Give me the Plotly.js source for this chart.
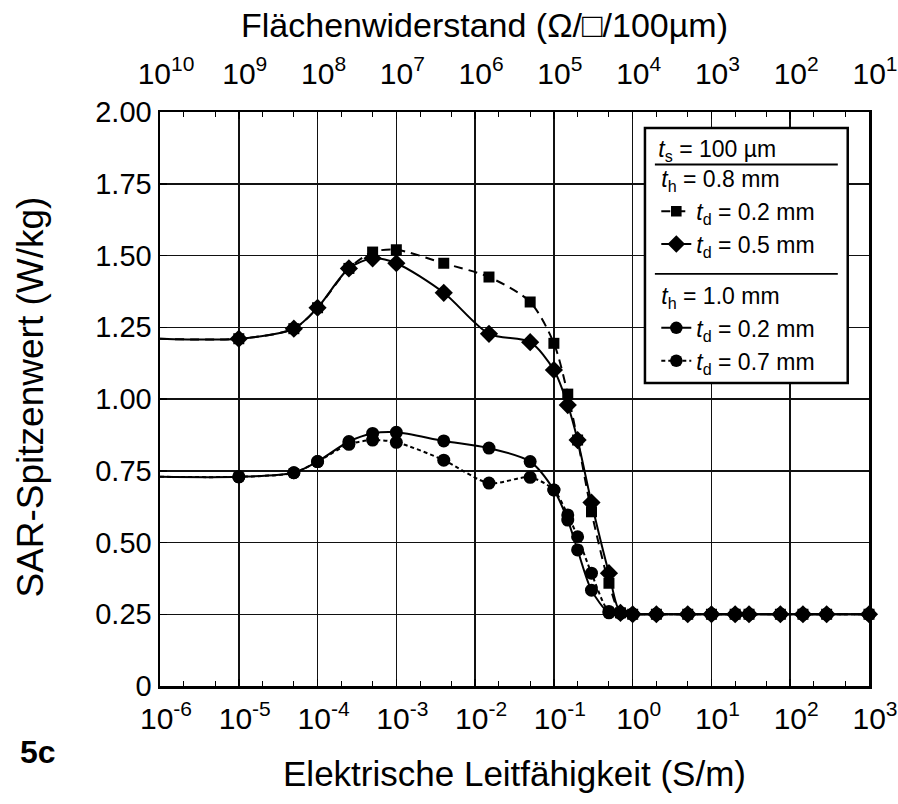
<!DOCTYPE html>
<html>
<head>
<meta charset="utf-8">
<script src="https://cdn.plot.ly/plotly-3.0.1.min.js"></script>
<style>html,body{margin:0;padding:0;background:#fff;}#chart{width:898px;height:804px;}</style>
</head>
<body>
<div id="chart"></div>
<script>
// Electrical conductivity (S/m) sample points
const sigmaA = [1e-6, 1e-5, 5e-5, 1e-4, 2.5e-4, 5e-4, 1e-3, 4e-3, 1.5e-2, 5e-2, 0.1, 0.15, 0.2, 0.3, 0.5, 0.7, 1, 2, 5, 10, 20, 30, 75, 145, 290, 1000];
// t_h = 0.8 mm
const sarH08D02 = [1.21, 1.21, 1.245, 1.318, 1.455, 1.512, 1.52, 1.473, 1.425, 1.338, 1.194, 1.017, 0.857, 0.607, 0.358, 0.255, 0.25, 0.25, 0.25, 0.25, 0.25, 0.25, 0.25, 0.25, 0.25, 0.25];
const sarH08D05 = [1.21, 1.21, 1.245, 1.318, 1.455, 1.49, 1.473, 1.37, 1.227, 1.198, 1.101, 0.979, 0.857, 0.639, 0.393, 0.255, 0.25, 0.25, 0.25, 0.25, 0.25, 0.25, 0.25, 0.25, 0.25, 0.25];
// t_h = 1.0 mm
const sarH10D02 = [0.729, 0.729, 0.743, 0.782, 0.852, 0.88, 0.884, 0.854, 0.829, 0.782, 0.683, 0.578, 0.474, 0.334, 0.255, 0.253, 0.25, 0.25, 0.25, 0.25, 0.25, 0.25, 0.25, 0.25, 0.25, 0.25];
const sarH10D07 = [0.729, 0.729, 0.743, 0.782, 0.842, 0.857, 0.849, 0.787, 0.707, 0.727, 0.683, 0.596, 0.52, 0.393, 0.26, 0.255, 0.25, 0.25, 0.25, 0.25, 0.25, 0.25, 0.25, 0.25, 0.25, 0.25];

const xTickVals = [1e-6, 1e-5, 1e-4, 1e-3, 1e-2, 1e-1, 1, 10, 100, 1000];
const xTickText = ['10<sup>-6</sup>','10<sup>-5</sup>','10<sup>-4</sup>','10<sup>-3</sup>','10<sup>-2</sup>','10<sup>-1</sup>','10<sup>0</sup>','10<sup>1</sup>','10<sup>2</sup>','10<sup>3</sup>'];
const topTickText = ['10<sup>10</sup>','10<sup>9</sup>','10<sup>8</sup>','10<sup>7</sup>','10<sup>6</sup>','10<sup>5</sup>','10<sup>4</sup>','10<sup>3</sup>','10<sup>2</sup>','10<sup>1</sup>'];
const yTickVals = [0, 0.25, 0.5, 0.75, 1.0, 1.25, 1.5, 1.75, 2.0];
const yTickText = ['0', '0.25', '0.50', '0.75', '1.00', '1.25', '1.50', '1.75', '2.00'];

const font = 'Liberation Sans, Arial, Helvetica, sans-serif';
const legFont = 23;
function sizes(n, s) { const a = []; for (let i = 0; i < n; i++) a.push(i === 0 ? 0 : s); return a; }

const traces = [
  { x: sigmaA, y: sarH08D02, type: 'scatter', mode: 'lines+markers', name: '<i>t</i><sub>d</sub> = 0.2 mm',
    legendgroup: 'g1', legendgrouptitle: { text: '<i>t</i><sub>h</sub> = 0.8 mm', font: { family: font, size: legFont, color: '#000' } },
    line: { color: '#000', width: 2, dash: '9px,6px', shape: 'spline', smoothing: 0.8 },
    marker: { symbol: 'square', size: sizes(sigmaA.length, 11), color: '#000', opacity: 1, line: { width: 0 } }, cliponaxis: false },
  { x: sigmaA, y: sarH08D05, type: 'scatter', mode: 'lines+markers', name: '<i>t</i><sub>d</sub> = 0.5 mm',
    legendgroup: 'g1',
    line: { color: '#000', width: 2, shape: 'spline', smoothing: 0.8 },
    marker: { symbol: 'diamond', size: sizes(sigmaA.length, 14), color: '#000', opacity: 1, line: { width: 0 } }, cliponaxis: false },
  { x: sigmaA, y: sarH10D02, type: 'scatter', mode: 'lines+markers', name: '<i>t</i><sub>d</sub> = 0.2 mm',
    legendgroup: 'g2', legendgrouptitle: { text: '<i>t</i><sub>h</sub> = 1.0 mm', font: { family: font, size: legFont, color: '#000' } },
    line: { color: '#000', width: 2, shape: 'spline', smoothing: 0.8 },
    marker: { symbol: 'circle', size: sizes(sigmaA.length, 13), color: '#000', opacity: 1, line: { width: 0 } }, cliponaxis: false },
  { x: sigmaA, y: sarH10D07, type: 'scatter', mode: 'lines+markers', name: '<i>t</i><sub>d</sub> = 0.7 mm',
    legendgroup: 'g2',
    line: { color: '#000', width: 2, dash: '4px,3px', shape: 'spline', smoothing: 0.8 },
    marker: { symbol: 'circle', size: sizes(sigmaA.length, 13), color: '#000', opacity: 1, line: { width: 0 } }, cliponaxis: false },
  // carrier for the top (sheet resistance) axis; draws nothing
  { x: xTickVals, y: xTickVals.map(() => null), type: 'scatter', mode: 'markers', xaxis: 'x2', yaxis: 'y',
    showlegend: false, hoverinfo: 'skip' }
];

const axCommon = {
  type: 'log', range: [-6, 3], tickmode: 'array', tickvals: xTickVals,
  showgrid: true, gridcolor: '#111', gridwidth: 1.5,
  showline: true, linecolor: '#000', linewidth: 2.5,
  ticks: 'inside', ticklen: 7, tickcolor: '#000', tickwidth: 1.5,
  minor: { ticks: 'inside', ticklen: 5, tickcolor: '#000', tickwidth: 1, showgrid: false },
  tickfont: { family: font, size: 30, color: '#000' }, zeroline: false,
  ticklabeloverflow: 'allow'
};

const layout = {
  width: 898, height: 804,
  margin: { l: 160, r: 29, t: 112, b: 118 },
  paper_bgcolor: '#fff', plot_bgcolor: '#fff',
  font: { family: font, color: '#000' },
  showlegend: true,
  xaxis: Object.assign({}, axCommon, {
    ticktext: xTickText, ticklabelshift: 6, ticklabelstandoff: 4,
    title: { text: 'Elektrische Leitfähigkeit (S/m)', font: { family: font, size: 35, color: '#000' }, standoff: 28 }
  }),
  xaxis2: Object.assign({}, axCommon, {
    ticktext: topTickText, overlaying: 'x', side: 'top', matches: 'x', showgrid: false,
    ticklabelshift: 6, ticklabelstandoff: 14
  }),
  yaxis: {
    range: [0, 2], tickmode: 'array', tickvals: yTickVals, ticktext: yTickText,
    showgrid: true, gridcolor: '#111', gridwidth: 1.5,
    showline: true, linecolor: '#000', linewidth: 2.5, mirror: true,
    ticks: 'inside', ticklen: 7, tickcolor: '#000', tickwidth: 1.5,
    tickfont: { family: font, size: 29, color: '#000' }, zeroline: false
  },
  legend: {
    x: 0.700, y: 0.974, xanchor: 'left', yanchor: 'top',
    bgcolor: 'rgba(0,0,0,0)', borderwidth: 0,
    font: { family: font, size: legFont, color: '#000' },
    title: { text: '<i>t</i><sub>s</sub> = 100 µm', font: { family: font, size: legFont, color: '#000' } },
    traceorder: 'grouped', tracegroupgap: 18, itemwidth: 30
  },
  shapes: [
    // legend frame and separators
    { type: 'rect', xref: 'paper', yref: 'paper', x0: 0.684, x1: 0.970, y0: 0.528, y1: 0.972, layer: 'above',
      fillcolor: '#fff', line: { color: '#000', width: 2.5 } },
    { type: 'line', xref: 'paper', yref: 'paper', x0: 0.698, x1: 0.956, y0: 0.9085, y1: 0.9085, layer: 'above', line: { color: '#000', width: 1.8 } },
    { type: 'line', xref: 'paper', yref: 'paper', x0: 0.698, x1: 0.956, y0: 0.718, y1: 0.718, layer: 'above', line: { color: '#000', width: 1.8 } }
  ],
  annotations: [
    { text: 'Flächenwiderstand (Ω/□/100µm)', xref: 'paper', yref: 'paper', x: 0.458, y: 1.1516, xanchor: 'center', yanchor: 'middle', showarrow: false, font: { family: font, size: 34, color: '#000' } },
    { text: 'SAR-Spitzenwert (W/kg)', xref: 'paper', yref: 'paper', x: -0.183, y: 0.503, textangle: -90, xanchor: 'center', yanchor: 'middle', showarrow: false, font: { family: font, size: 37, color: '#000' } },
    { text: '<b>5c</b>', xref: 'paper', yref: 'paper', x: -0.2003, y: -0.115, xanchor: 'left', yanchor: 'middle', showarrow: false, font: { family: font, size: 32, color: '#000' } }
  ]
};

Plotly.newPlot('chart', traces, layout, { staticPlot: true });
</script>
</body>
</html>
